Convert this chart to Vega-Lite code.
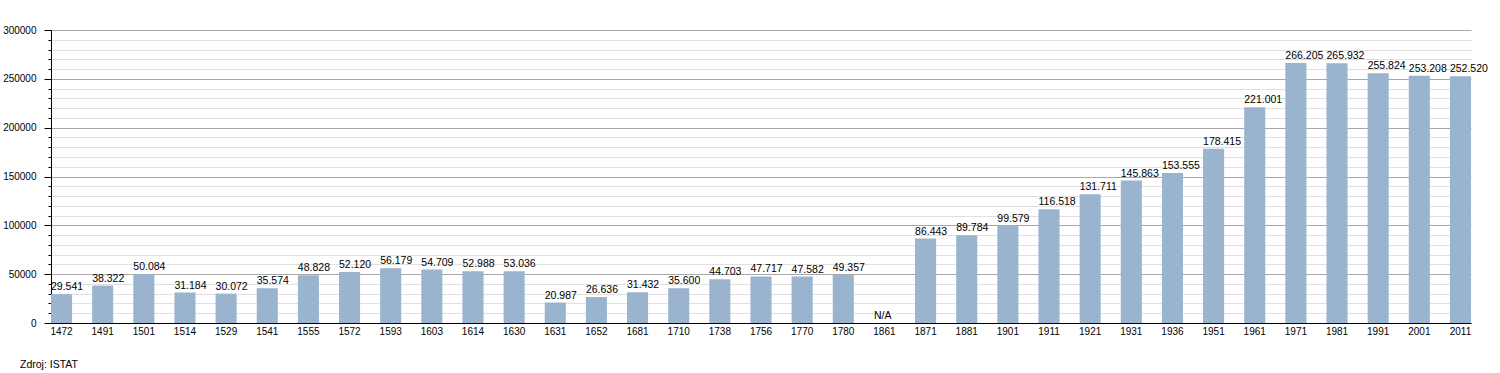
{
  "$schema": "https://vega.github.io/schema/vega-lite/v6.json",
  "width": 1420,
  "height": 293,
  "autosize": "none",
  "padding": {"left": 51, "top": 30, "right": 29, "bottom": 50},
  "background": "white",
  "config": {
    "view": {"stroke": null},
    "font": "Liberation Sans"
  },
  "title": {
    "text": "Zdroj: ISTAT",
    "orient": "bottom",
    "anchor": "start",
    "frame": "group",
    "fontSize": 10.5,
    "fontWeight": "normal",
    "color": "#000000",
    "font": "Liberation Sans",
    "dx": -31,
    "offset": 24
  },
  "data": {
    "values": [
      {"year": "1472", "pop": 29541, "label": "29.541"},
      {"year": "1491", "pop": 38322, "label": "38.322"},
      {"year": "1501", "pop": 50084, "label": "50.084"},
      {"year": "1514", "pop": 31184, "label": "31.184"},
      {"year": "1529", "pop": 30072, "label": "30.072"},
      {"year": "1541", "pop": 35574, "label": "35.574"},
      {"year": "1555", "pop": 48828, "label": "48.828"},
      {"year": "1572", "pop": 52120, "label": "52.120"},
      {"year": "1593", "pop": 56179, "label": "56.179"},
      {"year": "1603", "pop": 54709, "label": "54.709"},
      {"year": "1614", "pop": 52988, "label": "52.988"},
      {"year": "1630", "pop": 53036, "label": "53.036"},
      {"year": "1631", "pop": 20987, "label": "20.987"},
      {"year": "1652", "pop": 26636, "label": "26.636"},
      {"year": "1681", "pop": 31432, "label": "31.432"},
      {"year": "1710", "pop": 35600, "label": "35.600"},
      {"year": "1738", "pop": 44703, "label": "44.703"},
      {"year": "1756", "pop": 47717, "label": "47.717"},
      {"year": "1770", "pop": 47582, "label": "47.582"},
      {"year": "1780", "pop": 49357, "label": "49.357"},
      {"year": "1861", "pop": null, "label": "N/A"},
      {"year": "1871", "pop": 86443, "label": "86.443"},
      {"year": "1881", "pop": 89784, "label": "89.784"},
      {"year": "1901", "pop": 99579, "label": "99.579"},
      {"year": "1911", "pop": 116518, "label": "116.518"},
      {"year": "1921", "pop": 131711, "label": "131.711"},
      {"year": "1931", "pop": 145863, "label": "145.863"},
      {"year": "1936", "pop": 153555, "label": "153.555"},
      {"year": "1951", "pop": 178415, "label": "178.415"},
      {"year": "1961", "pop": 221001, "label": "221.001"},
      {"year": "1971", "pop": 266205, "label": "266.205"},
      {"year": "1981", "pop": 265932, "label": "265.932"},
      {"year": "1991", "pop": 255824, "label": "255.824"},
      {"year": "2001", "pop": 253208, "label": "253.208"},
      {"year": "2011", "pop": 252520, "label": "252.520"}
    ]
  },
  "encoding": {
    "x": {
      "field": "year",
      "type": "nominal",
      "sort": null,
      "scale": {
        "domain": ["1472","1491","1501","1514","1529","1541","1555","1572","1593","1603","1614","1630","1631","1652","1681","1710","1738","1756","1770","1780","1861","1871","1881","1901","1911","1921","1931","1936","1951","1961","1971","1981","1991","2001","2011"],
        "paddingInner": 0.488,
        "paddingOuter": 0
      },
      "axis": {
        "title": null,
        "labelAngle": 0,
        "labelFont": "Liberation Sans",
        "labelFontSize": 10,
        "labelColor": "#000000",
        "labelPadding": 3,
        "labelOverlap": false,
        "ticks": false,
        "domainColor": "#000000",
        "domainWidth": 1,
        "grid": false
      }
    }
  },
  "layer": [
    {
      "mark": {"type": "bar", "color": "#9ab3cf"},
      "encoding": {
        "y": {
          "field": "pop",
          "type": "quantitative",
          "scale": {"domain": [0, 300000], "nice": false},
          "axis": {
            "title": null,
            "values": [0, 10000, 20000, 30000, 40000, 50000, 60000, 70000, 80000, 90000, 100000, 110000, 120000, 130000, 140000, 150000, 160000, 170000, 180000, 190000, 200000, 210000, 220000, 230000, 240000, 250000, 260000, 270000, 280000, 290000, 300000],
            "tickCount": 31,
            "labelExpr": "datum.value % 50000 === 0 ? datum.value : ''",
            "format": "d",
            "labelOverlap": false,
            "labelBound": false,
            "labelFont": "Liberation Sans",
            "labelFontSize": 10,
            "labelColor": "#000000",
            "labelPadding": 8,
            "tickSize": {"condition": {"test": "datum.value % 50000 === 0", "value": 7}, "value": 3},
            "tickColor": "#000000",
            "tickWidth": 1,
            "domainColor": "#000000",
            "grid": true,
            "gridColor": {"condition": {"test": "datum.value % 50000 === 0", "value": "#a8a8a8"}, "value": "#e0e0e0"},
            "gridWidth": 1,
            "zindex": 0
          }
        }
      }
    },
    {
      "transform": [{"calculate": "datum.pop == null ? 0 : datum.pop", "as": "ypos"}],
      "mark": {
        "type": "text",
        "align": "left",
        "baseline": "alphabetic",
        "dy": -4,
        "fontSize": 10.5,
        "font": "Liberation Sans",
        "color": "#000000"
      },
      "encoding": {
        "x": {"field": "year", "type": "nominal", "sort": null, "bandPosition": 0},
        "y": {"field": "ypos", "type": "quantitative"},
        "text": {"field": "label"}
      }
    }
  ]
}
